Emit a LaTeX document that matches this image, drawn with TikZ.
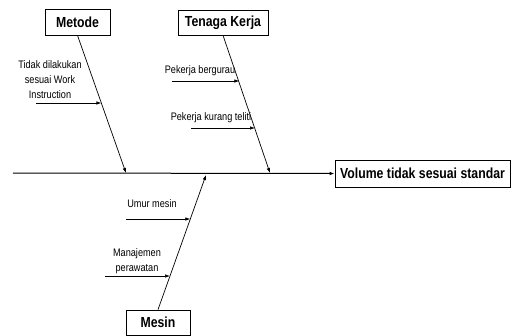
\documentclass[tikz,border=0pt]{standalone}
\usepackage{fontspec}
\setmainfont{Liberation Sans}[FakeStretch=0.84]
\usetikzlibrary{arrows.meta,calc}
\begin{document}
\begin{tikzpicture}[x=1pt,y=-1pt,
  catbox/.style={draw,line width=0.8pt,inner sep=0pt,font=\fontsize{14.6}{16}\selectfont\bfseries},
  subtext/.style={inner sep=0pt,align=center,font=\fontsize{10.9}{15}\selectfont},
  bone/.style={line width=0.7pt,-{Latex[length=5pt,width=3.5pt]}},
  spine/.style={line width=1pt,-{Latex[length=5pt,width=3.5pt]}}]
\useasboundingbox (0,0) rectangle (511,335);
% category boxes
\node[catbox,minimum width=65pt,minimum height=26pt] (metode) at (77.5,22) {Metode};
\node[catbox,minimum width=90pt,minimum height=25pt] (tenaga) at (223,22.5) {Tenaga Kerja};
\node[catbox,minimum width=64pt,minimum height=25pt] (mesin) at (158,322.5) {Mesin};
\node[catbox,minimum width=175pt,minimum height=27pt] (head) at (422.5,173.5) {Volume tidak sesuai standar};
% spine
\coordinate (s0) at (13,173);
\draw[spine] (s0) -- (head.west);
% bone end points
\coordinate (mE) at (126,173);
\coordinate (tE) at (270,173);
\coordinate (nE) at (206,175);
\draw[bone] (metode.south) -- (mE);
\draw[bone] (tenaga.south) -- (tE);
\draw[bone] (mesin.north) -- (nE);
% sub-cause arrow points
\coordinate (a1s) at (36,103);  \coordinate (a1e) at (101.4,103);
\coordinate (b1s) at (172,81);  \coordinate (b1e) at (239.3,81);
\coordinate (b2s) at (191,128); \coordinate (b2e) at (255,128);
\coordinate (c1s) at (126,219); \coordinate (c1e) at (190.3,219);
\coordinate (c2s) at (105,276); \coordinate (c2e) at (170,276);
\foreach \s/\e in {a1s/a1e,b1s/b1e,b2s/b2e,c1s/c1e,c2s/c2e}
  \draw[bone] (\s) -- (\e);
% texts
\node[subtext] (t1) at (50,80) {Tidak dilakukan\\sesuai Work\\Instruction};
\node[subtext] (t2) at (200,71) {Pekerja bergurau};
\node[subtext] (t3) at (211,118) {Pekerja kurang teliti};
\node[subtext] (t4) at (152,204) {Umur mesin};
\node[subtext] (t5) at (137,261) {Manajemen\\perawatan};
\end{tikzpicture}
\end{document}
